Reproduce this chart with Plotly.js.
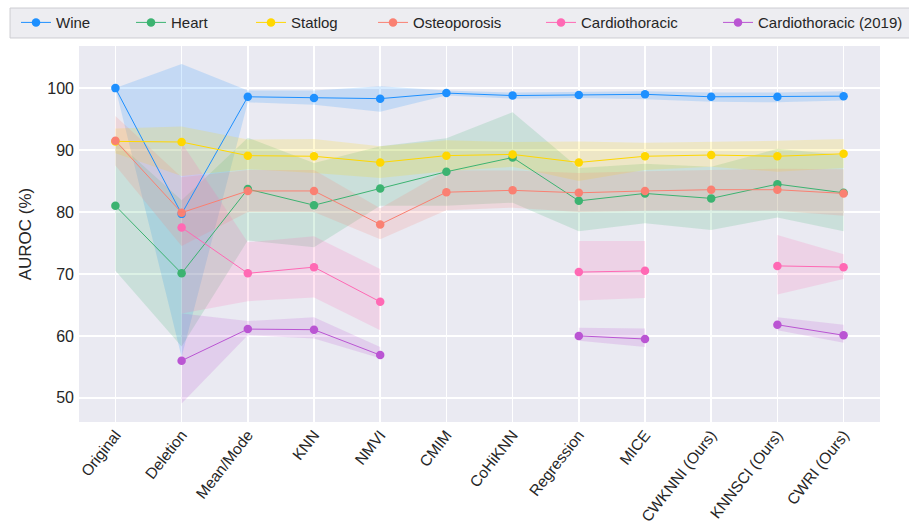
<!DOCTYPE html>
<html>
<head>
<meta charset="utf-8">
<script src="https://cdn.plot.ly/plotly-3.0.1.min.js"></script>
<style>html,body{margin:0;padding:0;background:#fff;}#chart{width:909px;height:530px;}</style>
</head>
<body>
<div id="chart"></div>
<script>
const methods = ["Original","Deletion","Mean/Mode","KNN","NMVI","CMIM","CoHiKNN","Regression","MICE","CWKNNI (Ours)","KNNSCI (Ours)","CWRI (Ours)"];

const seriesNames = ["Wine","Heart","Statlog","Osteoporosis","Cardiothoracic","Cardiothoracic (2019)"];
const seriesColors = ["#1E90FF","#3CB371","#FFD700","#FA8072","#FF69B4","#BA55D3"];

const wineMean  = [100.0, 79.7, 98.6, 98.4, 98.3, 99.2, 98.8, 98.9, 99.0, 98.6, 98.6, 98.7];
const wineUpper = [100.0,103.9, 99.6, 99.6,100.3, 99.6, 99.3, 99.4, 99.5, 99.3, 99.3, 99.5];
const wineLower = [100.0, 56.6, 97.7, 97.3, 96.2, 98.8, 98.3, 98.4, 98.2, 97.8, 97.7, 98.0];

const heartMean  = [81.0, 70.1, 83.7, 81.1, 83.8, 86.5, 88.8, 81.8, 83.0, 82.2, 84.5, 83.1];
const heartUpper = [91.5, 81.9, 92.0, 87.9, 90.6, 91.9, 96.1, 87.1, 87.8, 87.3, 90.2, 89.2];
const heartLower = [70.5, 58.3, 75.4, 74.3, 81.0, 81.0, 81.5, 76.9, 78.2, 77.1, 79.1, 76.9];

const statlogMean  = [91.4, 91.3, 89.1, 89.0, 88.0, 89.1, 89.3, 88.0, 89.0, 89.2, 89.0, 89.4];
const statlogUpper = [93.5, 93.8, 91.7, 91.8, 90.6, 91.6, 91.3, 91.4, 91.2, 91.3, 91.5, 91.8];
const statlogLower = [89.5, 85.8, 86.9, 86.3, 85.5, 86.6, 87.3, 85.0, 86.8, 87.3, 86.5, 87.1];

const osteoMean  = [91.5, 79.9, 83.4, 83.4, 78.0, 83.2, 83.5, 83.1, 83.4, 83.6, 83.6, 83.0];
const osteoUpper = [95.5, 85.6, 86.8, 86.8, 80.6, 86.7, 86.7, 86.3, 86.6, 86.8, 87.0, 86.9];
const osteoLower = [87.5, 74.5, 80.0, 80.0, 75.6, 80.3, 80.7, 80.0, 80.2, 80.3, 80.2, 79.4];

const cardioMean  = [null, 77.5, 70.1, 71.1, 65.5, null, null, 70.3, 70.5, null, 71.3, 71.1];
const cardioUpper = [null, 91.2, 75.1, 76.1, 70.8, null, null, 75.3, 75.3, null, 76.3, 73.2];
const cardioLower = [null, 63.6, 65.6, 66.2, 60.9, null, null, 65.7, 66.1, null, 66.7, 69.2];

const cardio19Mean  = [null, 56.0, 61.1, 61.0, 56.9, null, null, 60.0, 59.5, null, 61.8, 60.1];
const cardio19Upper = [null, 63.6, 62.4, 63.0, 58.2, null, null, 61.3, 61.2, null, 63.0, 61.8];
const cardio19Lower = [null, 49.1, 60.1, 59.6, 56.4, null, null, 59.2, 58.2, null, 60.9, 58.9];

const means  = [wineMean, heartMean, statlogMean, osteoMean, cardioMean, cardio19Mean];
const uppers = [wineUpper, heartUpper, statlogUpper, osteoUpper, cardioUpper, cardio19Upper];
const lowers = [wineLower, heartLower, statlogLower, osteoLower, cardioLower, cardio19Lower];

// legend entry widths (px) to space the one-row legend like the reference
const legendWidths = [70, 75, 77, 123, 132, 160];
const legendGroupOf = ['legend','legend','legend','legend','legend','legend2'];

function rgba(hex, a) {
  const r = parseInt(hex.slice(1,3),16), g = parseInt(hex.slice(3,5),16), b = parseInt(hex.slice(5,7),16);
  return `rgba(${r},${g},${b},${a})`;
}

const traces = [];
// bands
for (let s = 0; s < seriesNames.length; s++) {
  const up = uppers[s], lo = lowers[s];
  let i = 0;
  while (i < methods.length) {
    if (up[i] === null) { i++; continue; }
    let j = i;
    while (j + 1 < methods.length && up[j + 1] !== null) j++;
    const xs = [], ys = [];
    for (let k = i; k <= j; k++) { xs.push(methods[k]); ys.push(up[k]); }
    for (let k = j; k >= i; k--) { xs.push(methods[k]); ys.push(lo[k]); }
    traces.push({
      type: 'scatter', mode: 'lines', x: xs, y: ys, fill: 'toself',
      fillcolor: rgba(seriesColors[s], 0.18), line: {width: 0, color: 'rgba(0,0,0,0)'},
      showlegend: false, hoverinfo: 'skip'
    });
    i = j + 1;
  }
}
// lines
for (let s = 0; s < seriesNames.length; s++) {
  traces.push({
    type: 'scatter', mode: 'lines+markers', name: seriesNames[s],
    x: methods, y: means[s], connectgaps: false,
    line: {color: seriesColors[s], width: 1},
    marker: {color: seriesColors[s], size: 8.5},
    legend: legendGroupOf[s],
    legendwidth: legendWidths[s]
  });
}

const legendCommon = {
  orientation: 'h', xanchor: 'left', y: 1.106, yanchor: 'top',
  bgcolor: 'rgba(0,0,0,0)', borderwidth: 0,
  font: {size: 15, color: '#262626'}, itemwidth: 30, traceorder: 'normal'
};

const layout = {
  width: 909, height: 530,
  paper_bgcolor: '#ffffff', plot_bgcolor: '#EAEAF2',
  margin: {l: 79, r: 29, t: 46, b: 108, autoexpand: false},
  font: {family: 'Liberation Sans, Arial, sans-serif', color: '#262626', size: 15},
  xaxis: {
    type: 'category', range: [-0.55, 11.55], tickangle: -52, automargin: false,
    showgrid: true, gridcolor: '#ffffff', gridwidth: 1.5,
    zeroline: false, showline: false, ticks: '',
    tickfont: {size: 15.5, color: '#262626'}
  },
  yaxis: {
    range: [46.1, 106.8], tickvals: [50, 60, 70, 80, 90, 100], automargin: false,
    showgrid: true, gridcolor: '#ffffff', gridwidth: 1.5,
    zeroline: false, showline: false, ticks: '', ticklabelstandoff: 4,
    tickfont: {size: 16, color: '#262626'},
    title: {text: 'AUROC (%)', font: {size: 17, color: '#262626'}, standoff: 11}
  },
  shapes: [{
    type: 'rect', xref: 'paper', yref: 'paper',
    x0: -0.0861, x1: 1.06, y0: 1.0213, y1: 1.101,
    fillcolor: '#EDEDF1', line: {color: '#CDCDD2', width: 1}, layer: 'above'
  }],
  showlegend: true,
  legend: Object.assign({}, legendCommon, {x: (16 - 79) / 801}),
  legend2: Object.assign({}, legendCommon, {x: (718 - 79) / 801})
};

Plotly.newPlot('chart', traces, layout, {displayModeBar: false, staticPlot: true});
</script>
</body>
</html>
